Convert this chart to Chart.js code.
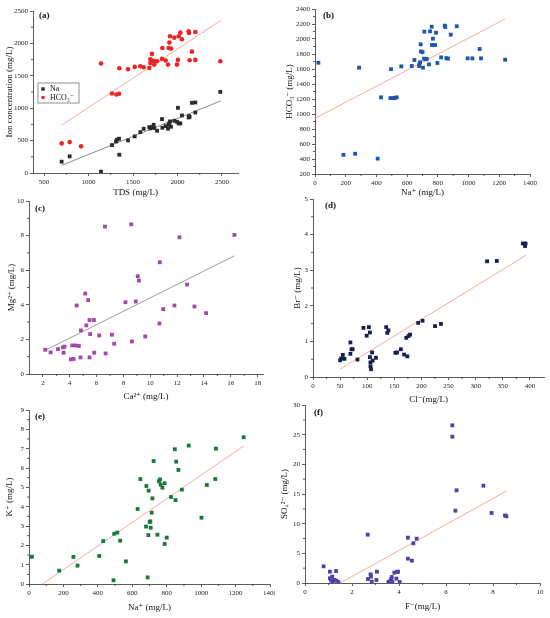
<!DOCTYPE html>
<html lang="en">
<head>
<meta charset="UTF-8">
<title>Hydrochemistry scatter plots</title>
<style>
    body { margin: 0; background: #fff; }
    .panel { position: absolute; }
</style>
</head>
<body>
<div class="panel" style="left:0;top:0;width:275px;height:200px"><canvas id="ca"></canvas></div>
<div class="panel" style="left:275px;top:0;width:275px;height:200px"><canvas id="cb"></canvas></div>
<div class="panel" style="left:0;top:195px;width:275px;height:210px"><canvas id="cc"></canvas></div>
<div class="panel" style="left:275px;top:195px;width:275px;height:210px"><canvas id="cd"></canvas></div>
<div class="panel" style="left:0;top:400px;width:275px;height:218px"><canvas id="ce"></canvas></div>
<div class="panel" style="left:275px;top:400px;width:275px;height:218px"><canvas id="cf"></canvas></div>
<script src="https://cdn.jsdelivr.net/npm/chart.js"></script>
<script>
// (a) TDS vs Na and HCO3
const tdsA = [698, 788, 916, 1140, 1264, 1313, 1343, 1346, 1444, 1519, 1582, 1620, 1683, 1695, 1695, 1713, 1732, 1739, 1770, 1826, 1830, 1867, 1893, 1901, 1908, 1916, 1927, 1964, 1994, 2005, 2013, 2032, 2050, 2125, 2129, 2136, 2162, 2200, 2200, 2481];
const hco3A = [457, 477, 411, 1689, 1227, 1211, 1222, 1617, 1601, 1637, 1648, 1632, 1622, 1755, 1699, 1838, 1730, 1673, 1725, 1761, 1930, 1735, 1673, 1930, 2012, 2110, 1920, 2089, 1673, 1745, 2110, 2166, 2063, 2187, 2161, 1740, 1873, 2176, 1745, 1725];
const tdsNa = [698, 788, 1140, 1264, 1309, 1320, 1343, 1346, 1444, 1519, 1582, 1620, 1683, 1695, 1713, 1732, 1739, 1770, 1826, 1830, 1867, 1893, 1901, 1908, 1916, 1927, 1964, 1994, 2005, 2013, 2032, 2050, 2125, 2129, 2136, 2162, 2200, 2200, 2481];
const naA = [175, 257, 21, 431, 488, 513, 529, 282, 503, 565, 631, 683, 708, 688, 708, 744, 693, 652, 832, 698, 724, 683, 744, 770, 796, 713, 806, 790, 1006, 765, 765, 888, 857, 878, 867, 1083, 1088, 934, 1252];
const fitHco3A = [[698, 739], [2489, 2356]];
const fitNaA = [[698, 118], [2489, 1114]];
const ticksAx = [500, 1000, 1500, 2000, 2500];
const ticksAy = [0, 500, 1000, 1500, 2000, 2500];

// (b) Na vs HCO3
const naB = [22, 185, 261, 287, 408, 430, 491, 495, 510, 520, 532, 562, 630, 647, 678, 680, 684, 688, 690, 700, 703, 710, 712, 720, 728, 742, 749, 760, 762, 768, 782, 788, 797, 821, 845, 848, 855, 866, 884, 923, 994, 1025, 1072, 1081, 1238];
const hco3B = [1684, 455, 470, 1618, 405, 1222, 1212, 1598, 1212, 1215, 1222, 1635, 1640, 1720, 1640, 1665, 1690, 1929, 1835, 1825, 1618, 1738, 2098, 1730, 1735, 1662, 2102, 2164, 1920, 2004, 1920, 2084, 1680, 1755, 2178, 2160, 1745, 1738, 2058, 2170, 1742, 1742, 1867, 1742, 1724];
const fitB = [[0, 942], [1238, 2267]];
const ticksBx = [0, 200, 400, 600, 800, 1000, 1200, 1400];
const ticksBy = [200, 400, 600, 800, 1000, 1200, 1400, 1600, 1800, 2000, 2200, 2400];

// (c) Ca vs Mg
const caC = [2.17, 2.57, 3.12, 3.49, 3.54, 3.61, 4.08, 4.18, 4.28, 4.43, 4.51, 4.68, 4.83, 4.80, 5.15, 5.23, 5.37, 5.47, 5.47, 5.52, 5.80, 5.82, 6.19, 6.62, 6.67, 7.14, 7.31, 8.15, 8.58, 8.63, 8.92, 9.07, 9.15, 9.62, 10.68, 10.71, 10.96, 11.80, 12.17, 12.74, 13.29, 14.16, 16.27];
const mgC = [1.40, 1.25, 1.44, 1.54, 1.23, 1.58, 0.85, 1.65, 0.87, 1.65, 3.96, 1.62, 2.52, 0.96, 4.65, 2.81, 4.27, 3.12, 0.96, 2.31, 3.12, 1.23, 2.23, 8.52, 1.19, 2.27, 1.75, 4.15, 8.65, 1.88, 4.19, 5.65, 5.40, 2.17, 2.92, 6.46, 3.75, 3.96, 7.90, 5.17, 3.90, 3.52, 8.04];
const fitC = [[2.17, 1.37], [16.27, 6.83]];
const ticksCx = [2, 4, 6, 8, 10, 12, 14, 16, 18];
const ticksCy = [0, 2, 4, 6, 8, 10];

// (d) Cl vs Br
const clD = [50, 52, 55, 58, 69, 69, 71, 73, 82, 93, 99, 103, 105, 105, 106, 106, 107, 109, 110, 116, 135, 137, 139, 152, 155, 162, 168, 172, 174, 176, 179, 194, 202, 225, 236, 321, 339, 387, 392, 391];
const brD = [0.47, 0.52, 0.62, 0.51, 0.97, 0.65, 0.78, 0.78, 0.49, 1.38, 1.16, 1.40, 1.25, 0.56, 0.41, 0.30, 0.22, 0.69, 0.46, 0.54, 1.40, 1.24, 1.31, 0.68, 0.69, 0.78, 0.63, 1.10, 0.58, 1.15, 1.19, 1.52, 1.58, 1.43, 1.49, 3.25, 3.26, 3.75, 3.75, 3.68];
const fitD = [[50, 0.22], [393, 3.42]];
const ticksDx = [0, 50, 100, 150, 200, 250, 300, 350, 400];
const ticksDy = [0, 1, 2, 3, 4, 5];

// (e) Na vs K
const naE = [17, 175, 258, 282, 408, 431, 491, 495, 513, 530, 563, 631, 647, 680, 682, 689, 693, 695, 701, 705, 707, 713, 717, 724, 746, 755, 761, 765, 775, 788, 788, 800, 825, 847, 851, 855, 868, 888, 928, 1002, 1033, 1082, 1086, 1247];
const kE = [1.41, 0.69, 1.40, 0.95, 1.45, 2.22, 0.19, 2.60, 2.66, 2.24, 1.17, 3.88, 5.43, 2.97, 5.07, 0.34, 2.53, 4.83, 3.21, 3.24, 2.91, 3.69, 4.43, 6.36, 2.55, 5.31, 5.41, 5.14, 4.98, 5.21, 2.07, 2.40, 4.50, 6.97, 4.34, 6.33, 5.90, 4.88, 7.16, 3.43, 5.12, 5.43, 7.00, 7.59];
const fitE = [[78, 0], [1247, 7.14]];
const ticksEx = [0, 200, 400, 600, 800, 1000, 1200, 1400];
const ticksEy = [0, 1, 2, 3, 4, 5, 6, 7, 8, 9];

// (f) F vs SO4
const fF = [0.79, 1.06, 1.06, 1.11, 1.16, 1.18, 1.25, 1.32, 1.33, 1.42, 2.67, 2.68, 2.79, 2.81, 2.84, 3.04, 3.06, 3.55, 3.62, 3.67, 3.69, 3.72, 3.80, 3.89, 3.91, 3.96, 4.03, 4.38, 4.38, 4.55, 4.61, 4.75, 6.27, 6.27, 6.40, 6.45, 7.59, 7.94, 8.51, 8.57];
const so4F = [2.81, 1.91, 0.79, 0.39, 1.07, 0.22, 0.51, 2.02, 0.39, 0.17, 8.15, 0.67, 1.46, 1.07, 0.22, 0.51, 1.91, 0.17, 0.34, 0.67, 1.01, 0.17, 1.74, 0.73, 1.85, 1.91, 0.17, 7.64, 4.10, 3.76, 6.69, 7.47, 26.57, 24.66, 12.19, 15.62, 16.40, 11.80, 11.40, 11.24];
const fitF = [[1.50, 0], [8.57, 15.5]];
const ticksFx = [0, 2, 4, 6, 8, 10];
const ticksFy = [0, 5, 10, 15, 20, 25, 30];

const SERIF = "'Liberation Serif', 'DejaVu Serif', serif";
const AXIS = '#333';
const SALMON = '#f6ab9c';

const pts = (xs, ys) => xs.map((x, i) => ({ x: x, y: ys[i] }));
const seg = arr => arr.map(p => ({ x: p[0], y: p[1] }));

function dots(xs, ys, color, style, r) {
    return {
        data: pts(xs, ys), pointStyle: style || 'rect', pointRadius: r || 2.7,
        backgroundColor: color, borderColor: color, borderWidth: 0, showLine: false
    };
}
function fit(arr, color) {
    return {
        data: seg(arr), showLine: true, pointRadius: 0, borderColor: color,
        borderWidth: 1, fill: false, order: 1
    };
}

// panel label, legend box in (a), and short minor ticks between the major ones
const decor = {
    id: 'decor',
    afterDraw(chart, args, o) {
        const ctx = chart.ctx, a = chart.chartArea;
        ctx.save();
        ctx.strokeStyle = AXIS;
        ctx.lineWidth = 0.8;
        ['x', 'y'].forEach(k => {
            const s = chart.scales[k], t = s.ticks;
            for (let i = 0; i + 1 < t.length; i++) {
                const p = s.getPixelForValue((t[i].value + t[i + 1].value) / 2);
                ctx.beginPath();
                if (k === 'x') { ctx.moveTo(p, a.bottom); ctx.lineTo(p, a.bottom + 2); }
                else { ctx.moveTo(a.left, p); ctx.lineTo(a.left - 2, p); }
                ctx.stroke();
            }
        });
        ctx.fillStyle = '#111';
        ctx.font = 'bold 9px ' + SERIF;
        ctx.textBaseline = 'middle';
        ctx.fillText(o.label, a.left + o.lx, a.top + o.ly);
        if (o.legend) {
            const L = o.legend;
            const bx = a.left + L.x, by = a.top + L.y;
            ctx.strokeStyle = '#777';
            ctx.strokeRect(bx, by, L.w, L.h);
            ctx.font = '8px ' + SERIF;
            L.items.forEach((it, i) => {
                const cy = by + 6 + i * 8.5;
                ctx.fillStyle = it.color;
                ctx.beginPath();
                if (it.style === 'circle') ctx.arc(bx + 5, cy, 1.8, 0, Math.PI * 2);
                else ctx.rect(bx + 3.3, cy - 1.7, 3.4, 3.4);
                ctx.fill();
                ctx.fillStyle = '#111';
                ctx.fillText(it.text, bx + 12, cy);
            });
        }
        ctx.restore();
    }
};

function axis(o, box, horizontal) {
    return {
        type: 'linear',
        min: o.min, max: o.max,
        border: { display: true, color: AXIS, width: 0.8 },
        grid: { drawOnChartArea: false, drawTicks: true, tickLength: 3, color: AXIS, lineWidth: 0.8 },
        ticks: {
            padding: 2, color: '#222', callback: v => String(v),
            font: { family: SERIF, size: 7 }, maxRotation: 0, autoSkip: false
        },
        afterBuildTicks(scale) { scale.ticks = o.ticks.map(v => ({ value: v })); },
        title: {
            display: true, text: o.title, color: '#111',
            font: { family: SERIF, size: 9 },
            padding: horizontal ? { top: 0, bottom: o.tpad } : { top: o.tpad, bottom: 0 }
        },
        afterFit(scale) {
            scale.paddingLeft = 0; scale.paddingRight = 0;
            scale.paddingTop = 0; scale.paddingBottom = 0;
            if (horizontal) scale.height = box.top + box.height - box.area.b;
            else scale.width = box.area.l - box.left;
        }
    };
}

function panel(canvasId, box, xo, yo, datasets, deco) {
    new Chart(document.getElementById(canvasId), {
        type: 'scatter',
        data: { datasets: datasets },
        options: {
            responsive: true, maintainAspectRatio: false, animation: false,
            layout: { padding: { left: 0, bottom: 0, top: box.area.t - box.top, right: box.left + box.width - box.area.r } },
            plugins: { legend: { display: false }, tooltip: { enabled: false }, decor: deco },
            scales: { x: axis(xo, box, true), y: axis(yo, box, false) }
        },
        plugins: [decor]
    });
}

panel('ca', { left: 0, top: 0, width: 275, height: 200, area: { l: 33, t: 11, r: 238, b: 173 } },
    { min: 376, max: 2680, ticks: ticksAx, title: 'TDS (mg/L)', tpad: 2 },
    { min: 0, max: 2500, ticks: ticksAy, title: 'Ion concentration (mg/L)', tpad: 4 },
    [fit(fitHco3A, SALMON), fit(fitNaA, '#8a8a8a'),
     dots(tdsA, hco3A, '#ee2424', 'circle', 2.3), dots(tdsNa, naA, '#2b2b2b')],
    { label: '(a)', lx: 6, ly: 5,
      legend: { x: 5, y: 72, w: 41, h: 20, items: [
          { text: 'Na', color: '#2b2b2b', style: 'rect' },
          { text: 'HCO\u2083\u207B', color: '#ee2424', style: 'circle' }] } });

panel('cb', { left: 275, top: 0, width: 275, height: 200, area: { l: 315, t: 9, r: 530, b: 174 } },
    { min: 0, max: 1400, ticks: ticksBx, title: 'Na\u207A (mg/L)', tpad: 2 },
    { min: 200, max: 2400, ticks: ticksBy, title: 'HCO\u2083\u207B (mg/L)', tpad: 9 },
    [fit(fitB, SALMON), dots(naB, hco3B, '#1d56ae')],
    { label: '(b)', lx: 8, ly: 7 });

panel('cc', { left: 0, top: 195, width: 275, height: 210, area: { l: 29, t: 201, r: 263, b: 374 } },
    { min: 0.96, max: 18.4, ticks: ticksCx, title: 'Ca\u00B2\u207A (mg/L)', tpad: 3 },
    { min: 0, max: 10, ticks: ticksCy, title: 'Mg\u00B2\u207A (mg/L)', tpad: 6 },
    [fit(fitC, '#9a9a9a'), dots(caC, mgC, '#a646a6')],
    { label: '(c)', lx: 6, ly: 8 });

panel('cd', { left: 275, top: 195, width: 275, height: 210, area: { l: 313, t: 196, r: 544, b: 377 } },
    { min: 0, max: 426, ticks: ticksDx, title: 'Cl\u207B(mg/L)', tpad: 0 },
    { min: 0, max: 5, ticks: ticksDy, title: 'Br\u207B (mg/L)', tpad: 17 },
    [fit(fitD, SALMON), dots(clD, brD, '#16204f')],
    { label: '(d)', lx: 12, ly: 7 });

panel('ce', { left: 0, top: 400, width: 275, height: 218, area: { l: 29, t: 410, r: 270, b: 584 } },
    { min: 0, max: 1400, ticks: ticksEx, title: 'Na\u207A (mg/L)', tpad: 5 },
    { min: 0, max: 9, ticks: ticksEy, title: 'K\u207A (mg/L)', tpad: 4 },
    [fit(fitE, SALMON), dots(naE, kE, '#17793a')],
    { label: '(e)', lx: 6, ly: 7 });

panel('cf', { left: 275, top: 400, width: 275, height: 218, area: { l: 305, t: 405, r: 540, b: 583 } },
    { min: 0, max: 10, ticks: ticksFx, title: 'F\u207B(mg/L)', tpad: 6 },
    { min: 0, max: 30, ticks: ticksFy, title: 'SO\u2084\u00B2\u207B (mg/L)', tpad: 4 },
    [fit(fitF, SALMON), dots(fF, so4F, '#5140a6')],
    { label: '(f)', lx: 9, ly: 8 });
</script>
</body>
</html>
